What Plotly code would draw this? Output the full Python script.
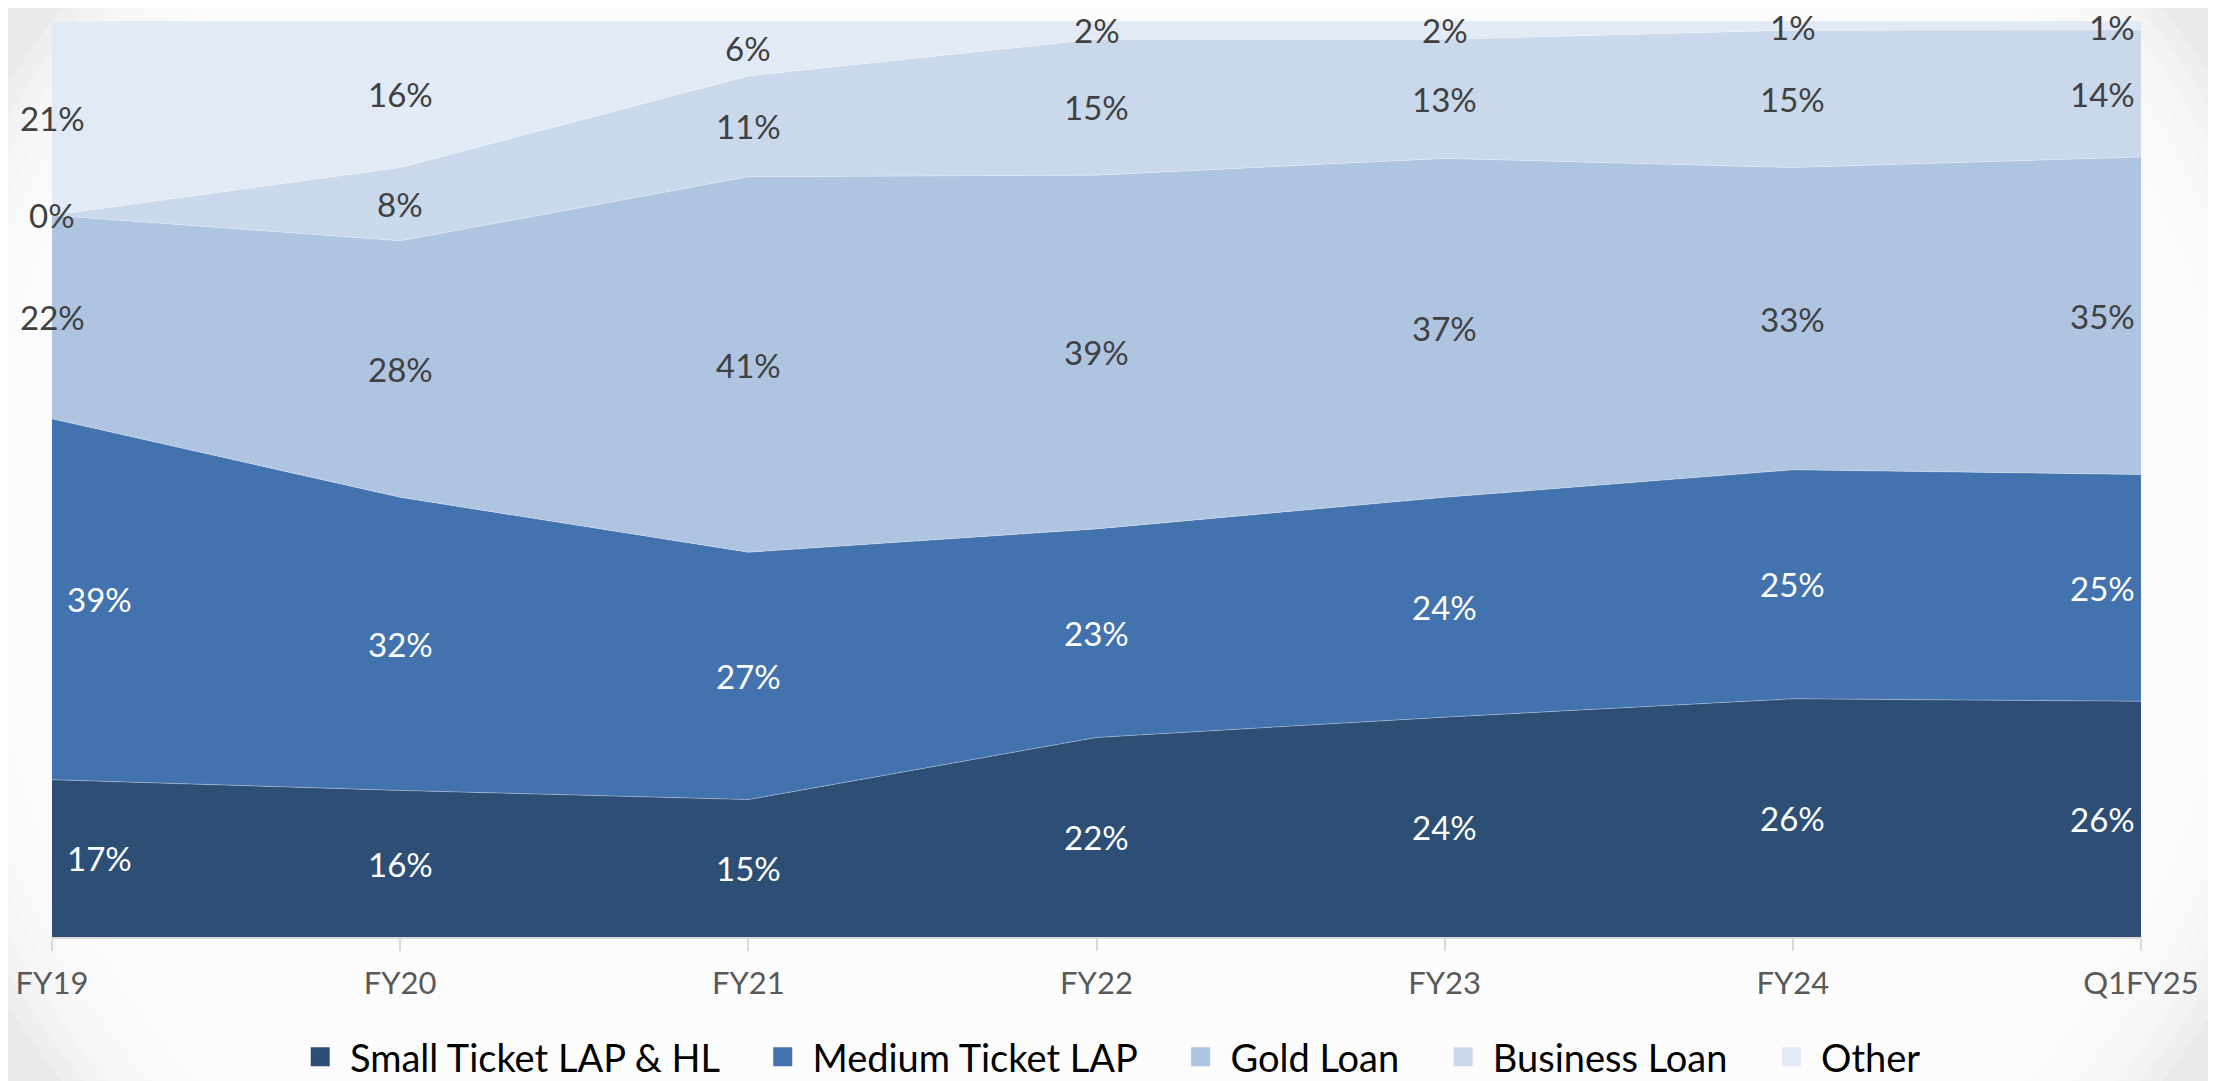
import plotly.graph_objects as go

categories = ["FY19", "FY20", "FY21", "FY22", "FY23", "FY24", "Q1FY25"]
small_ticket = [17, 16, 15, 22, 24, 26, 26]
medium_ticket = [39, 32, 27, 23, 24, 25, 25]
gold_loan = [22, 28, 41, 39, 37, 33, 35]
business_loan = [0, 8, 11, 15, 13, 15, 14]
other = [21, 16, 6, 2, 2, 1, 1]

series_names = ["Small Ticket LAP & HL", "Medium Ticket LAP", "Gold Loan", "Business Loan", "Other"]
series_values = [small_ticket, medium_ticket, gold_loan, business_loan, other]
colors = ["#2D4F75", "#4373AE", "#AEC4E1", "#C9D8EB", "#E2EAF5"]
label_colors = ["#FFFFFF", "#FFFFFF", "#404040", "#404040", "#404040"]

FONT = "Lato"
# the page body adds an 8px offset; figure sized so it fills the window
OFF = 8
W, H = 2216 - OFF, 1081 - OFF
ML, MR, MT, MB = 44, 75, 13, 144
PW, PH = W - ML - MR, H - MT - MB

fig = go.Figure()
for name, vals, col in zip(series_names, series_values, colors):
    fig.add_trace(go.Scatter(
        x=categories, y=vals, name=name, mode="lines",
        stackgroup="one", groupnorm="percent",
        line=dict(width=1, color="rgba(255,255,255,0.3)"), fillcolor=col,
        hoverinfo="skip", showlegend=False,
    ))
# legend entries with square swatches
NB = "\u00a0"
for idx, (name, col) in enumerate(zip(series_names, colors)):
    label = NB + name + (NB * 4 if idx < len(series_names) - 1 else "")
    fig.add_trace(go.Scatter(
        x=[None], y=[None], name=label,
        mode="markers",
        marker=dict(symbol="square", size=16, color=col, line=dict(width=3, color=col)),
        showlegend=True, hoverinfo="skip",
    ))

totals = [sum(s[i] for s in series_values) for i in range(len(categories))]
n = len(categories)
MIN_TOP_PX = 19  # keep labels inside the figure, like the source chart
for i, cat in enumerate(categories):
    cum = 0
    for k, vals in enumerate(series_values):
        v = vals[i]
        mid = (cum + v / 2) / totals[i] * 100
        cum += v
        xanchor = "center"
        xshift = 0
        if i == 0 and label_colors[k] == "#FFFFFF":
            xanchor, xshift = "left", 13
        if i == n - 1:
            xanchor, xshift = "right", -4
        px_from_top = MT + (100 - mid) / 100 * PH
        yshift = -(MIN_TOP_PX - px_from_top) if px_from_top < MIN_TOP_PX else 0
        fig.add_annotation(
            x=i, y=mid, text=f"{v}%", showarrow=False,
            xanchor=xanchor, yanchor="middle", xshift=xshift, yshift=yshift,
            font=dict(family=FONT, size=33, color=label_colors[k]),
        )

# subtle vignette background (decorative)
shapes = []
cx, cy = W / 2, H / 2
steps = 14
for j in range(steps):
    s = 1.12 - j * (0.22 / (steps - 1))
    a, b = 1108 * s, 900 * s
    shapes.append(dict(
        type="circle", xref="paper", yref="paper", layer="below",
        x0=(cx - a - ML) / PW, x1=(cx + a - ML) / PW,
        y0=(H - MB - (cy + b)) / PH, y1=(H - MB - (cy - b)) / PH,
        fillcolor="white", opacity=0.24, line=dict(width=0),
    ))

fig.update_layout(
    width=W, height=H,
    margin=dict(l=ML, r=MR, t=MT, b=MB, autoexpand=False),
    paper_bgcolor="#EAEAEA", plot_bgcolor="rgba(0,0,0,0)",
    font=dict(family=FONT),
    shapes=shapes,
    showlegend=True,
    legend=dict(
        orientation="h", x=0.508, xanchor="center", y=-0.131, yanchor="middle",
        font=dict(family=FONT, size=38, color="#000000"),
        traceorder="normal", itemsizing="trace",
        bgcolor="rgba(0,0,0,0)",
    ),
)
fig.update_xaxes(
    type="category", range=[0, n - 1], automargin=False,
    showgrid=False, showline=True, linecolor="#D9D9D9", linewidth=1.5,
    ticks="outside", ticklen=12, tickcolor="#D9D9D9", tickwidth=1.5,
    ticklabelstandoff=6,
    tickfont=dict(family=FONT, size=31, color="#595959"),
    zeroline=False,
)
fig.update_yaxes(range=[0, 100], visible=False, showgrid=False, zeroline=False, automargin=False)

fig.write_html("out.html")
